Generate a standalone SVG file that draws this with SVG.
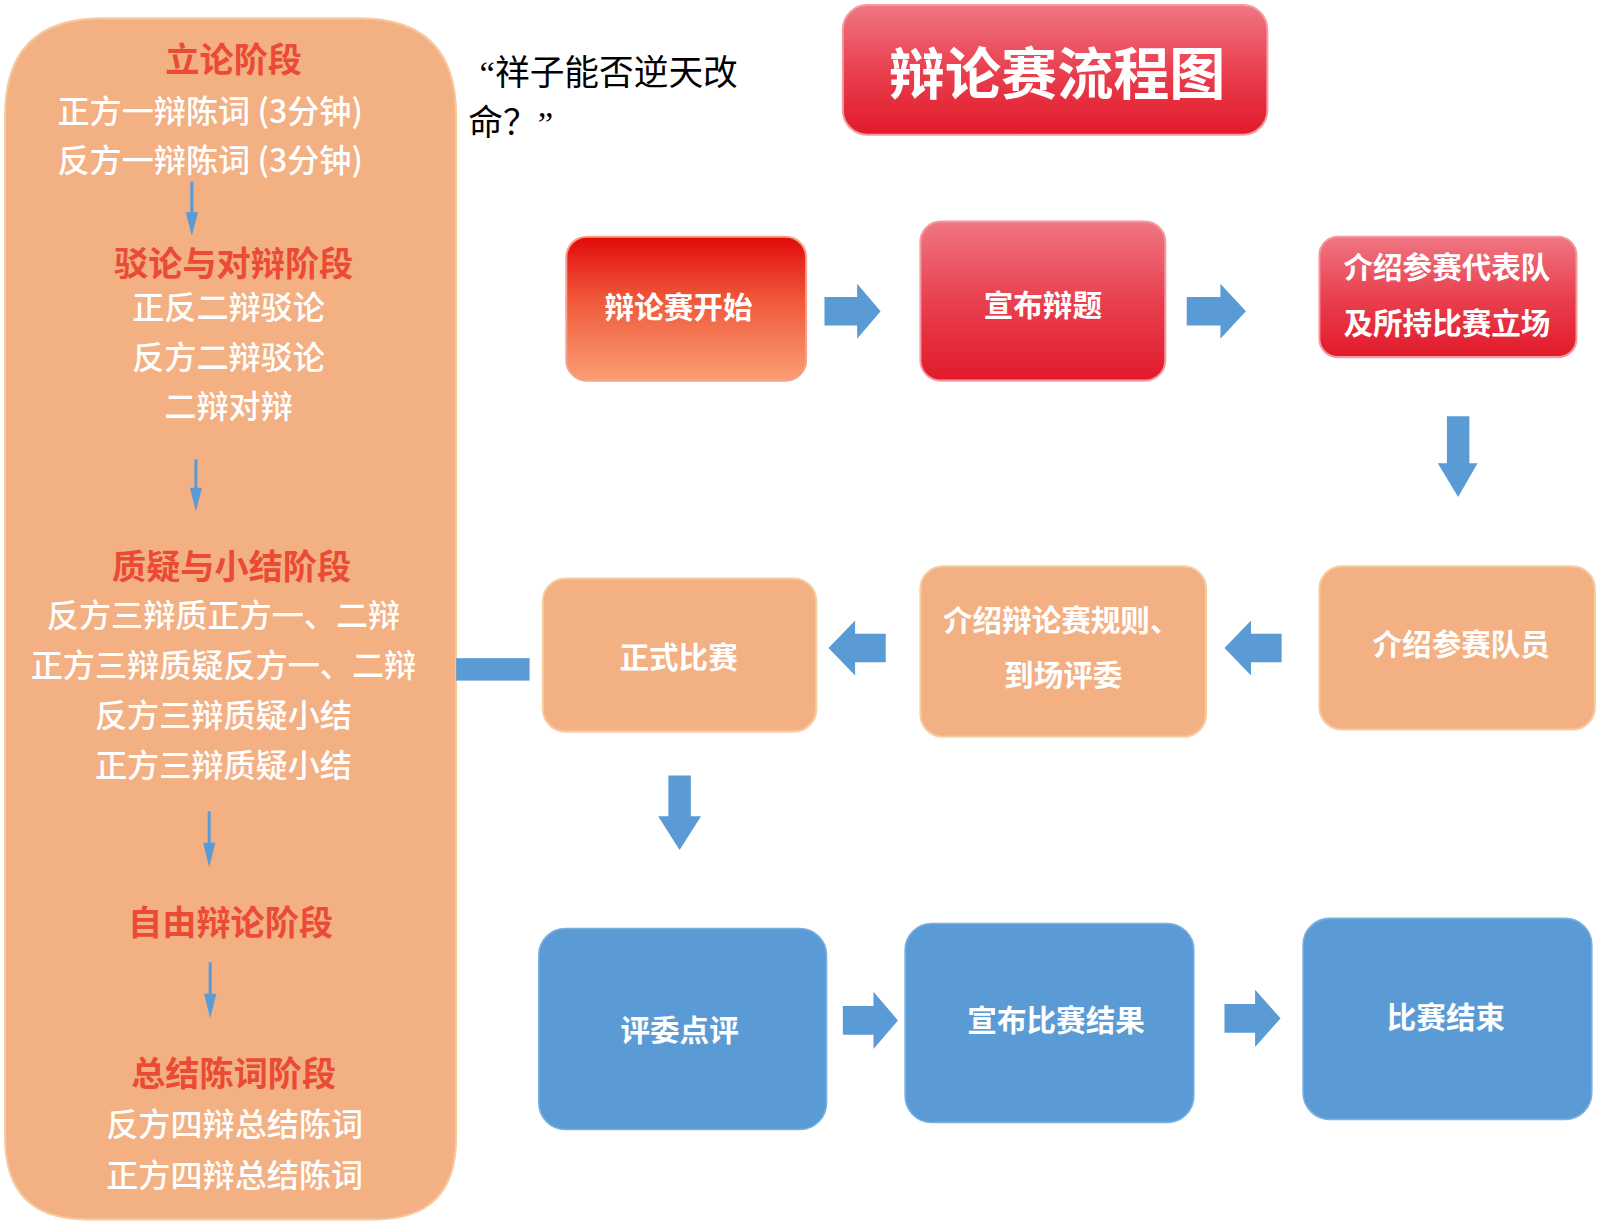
<svg xmlns="http://www.w3.org/2000/svg" width="1600" height="1225" viewBox="0 0 1600 1225">
<defs>
<linearGradient id="gStart" x1="0" y1="0" x2="0" y2="1">
<stop offset="0" stop-color="#E20A0A"/>
<stop offset="0.45" stop-color="#F05A3C"/>
<stop offset="1" stop-color="#FA9E72"/>
</linearGradient>
<linearGradient id="gRed" x1="0" y1="0" x2="0" y2="1">
<stop offset="0" stop-color="#F07683"/>
<stop offset="0.5" stop-color="#E9404F"/>
<stop offset="1" stop-color="#E11A2A"/>
</linearGradient>
<style>
.panel{fill:#F3B083;stroke:#F7C99E;stroke-width:2}
.org{fill:#F3B083;stroke:#F8CDA2;stroke-width:2}
.red{fill:url(#gRed);stroke:#F49AA2;stroke-width:2}
.start{fill:url(#gStart);stroke:#F7A08A;stroke-width:2}
.blue{fill:#5B9BD5;stroke:#7AB0E0;stroke-width:1.5}
.arr{fill:#5B9BD5}
.thin{stroke:#5B9BD5;stroke-width:3;fill:none}
.hd{font-family:"Noto Sans CJK SC",sans-serif;font-weight:bold;font-size:33.5px;fill:#EB4A35;text-anchor:middle}
.ln{font-family:"Noto Sans CJK SC",sans-serif;font-weight:500;font-size:31.5px;fill:#FFFFFF;text-anchor:middle}
.bx{font-family:"Noto Sans CJK SC",sans-serif;font-weight:bold;font-size:29px;fill:#FFFFFF;text-anchor:middle}
.ttl{font-family:"Noto Sans CJK SC",sans-serif;font-weight:bold;font-size:55px;fill:#FFFFFF;text-anchor:middle}
.qt{font-family:"Liberation Serif","Noto Sans CJK SC",serif;font-size:34px;fill:#000000}
</style>
</defs>
<rect width="1600" height="1225" fill="#FFFFFF"/>
<g transform="scale(1.0204)">

<g id="stages">
<path class="panel" d="M100,18 H352 Q447,18 447,113 V1115 Q447,1195 367,1195 H85 Q5,1195 5,1115 V113 Q5,18 100,18 Z"/>
<text class="hd" x="229" y="71">立论阶段</text>
<text class="ln" x="206" y="121">正方一辩陈词 (3分钟)</text>
<text class="ln" x="206" y="169">反方一辩陈词 (3分钟)</text>
<text class="hd" x="229" y="270">驳论与对辩阶段</text>
<text class="ln" x="224" y="313">正反二辩驳论</text>
<text class="ln" x="224" y="362">反方二辩驳论</text>
<text class="ln" x="224" y="410">二辩对辩</text>
<text class="hd" x="227" y="567">质疑与小结阶段</text>
<text class="ln" x="219" y="614">反方三辩质正方一、二辩</text>
<text class="ln" x="219" y="663">正方三辩质疑反方一、二辩</text>
<text class="ln" x="219" y="712">反方三辩质疑小结</text>
<text class="ln" x="219" y="761">正方三辩质疑小结</text>
<text class="hd" x="226" y="916">自由辩论阶段</text>
<text class="hd" x="229" y="1064">总结陈词阶段</text>
<text class="ln" x="230" y="1113">反方四辩总结陈词</text>
<text class="ln" x="230" y="1163">正方四辩总结陈词</text>
</g>

<g id="quote">
<text class="qt" x="470" y="83">“祥子能否逆天改</text>
<text class="qt" x="459" y="132">命？”</text>
</g>

<g id="title">
<rect class="red" x="826" y="5" width="416" height="127" rx="24"/>
<text class="ttl" x="1036" y="92">辩论赛流程图</text>
</g>

<g id="n-start">
<rect class="start" x="555" y="232" width="235" height="141" rx="20"/>
<text class="bx" x="665" y="312">辩论赛开始</text>
</g>
<g id="n-topic">
<rect class="red" x="902" y="217" width="240" height="156" rx="20"/>
<text class="bx" x="1022" y="310">宣布辩题</text>
</g>
<g id="n-teams">
<rect class="red" x="1293" y="232" width="252" height="118" rx="18"/>
<text class="bx" x="1418" y="272">介绍参赛代表队</text>
<text class="bx" x="1418" y="327">及所持比赛立场</text>
</g>
<g id="n-members">
<rect class="org" x="1293" y="555" width="270" height="160" rx="22"/>
<text class="bx" x="1432" y="642">介绍参赛队员</text>
</g>
<g id="n-rules">
<rect class="org" x="902" y="555" width="280" height="167" rx="22"/>
<text class="bx" x="1040" y="618">介绍辩论赛规则、</text>
<text class="bx" x="1042" y="672">到场评委</text>
</g>
<g id="n-match">
<rect class="org" x="532" y="567" width="268" height="150" rx="22"/>
<text class="bx" x="665" y="655">正式比赛</text>
</g>
<g id="n-review">
<rect class="blue" x="528" y="910" width="282" height="197" rx="26"/>
<text class="bx" x="666" y="1020">评委点评</text>
</g>
<g id="n-result">
<rect class="blue" x="887" y="905" width="283" height="195" rx="26"/>
<text class="bx" x="1035" y="1010">宣布比赛结果</text>
</g>
<g id="n-end">
<rect class="blue" x="1277" y="900" width="283" height="197" rx="26"/>
<text class="bx" x="1417" y="1007">比赛结束</text>
</g>

<g id="connectors">
<line class="thin" x1="188" y1="178" x2="188" y2="216"/>
<polygon class="arr" points="182,208 194,208 188,231"/>
<line class="thin" x1="192" y1="450" x2="192" y2="486"/>
<polygon class="arr" points="186,478 198,478 192,501"/>
<line class="thin" x1="205" y1="795" x2="205" y2="834"/>
<polygon class="arr" points="199,826 211,826 205,850"/>
<line class="thin" x1="206" y1="943" x2="206" y2="982"/>
<polygon class="arr" points="200,974 212,974 206,998"/>
<rect class="arr" x="447" y="645" width="72" height="22"/>
<polygon class="arr" points="808,291 840,291 840,278 863,305 840,332 840,319 808,319"/>
<polygon class="arr" points="1163,291 1196,291 1196,278 1221,305 1196,332 1196,319 1163,319"/>
<polygon class="arr" points="1418,408 1440,408 1440,454 1448,454 1429,487 1409,454 1418,454"/>
<polygon class="arr" points="1256,621 1226,621 1226,608 1200,635 1226,662 1226,649 1256,649"/>
<polygon class="arr" points="868,621 838,621 838,608 812,635 838,662 838,649 868,649"/>
<polygon class="arr" points="655,760 677,760 677,800 687,800 666,833 645,800 655,800"/>
<polygon class="arr" points="826,986 856,986 856,972 880,1000 856,1028 856,1014 826,1014"/>
<polygon class="arr" points="1200,984 1230,984 1230,970 1255,998 1230,1026 1230,1012 1200,1012"/>
</g>
</g>
</svg>
